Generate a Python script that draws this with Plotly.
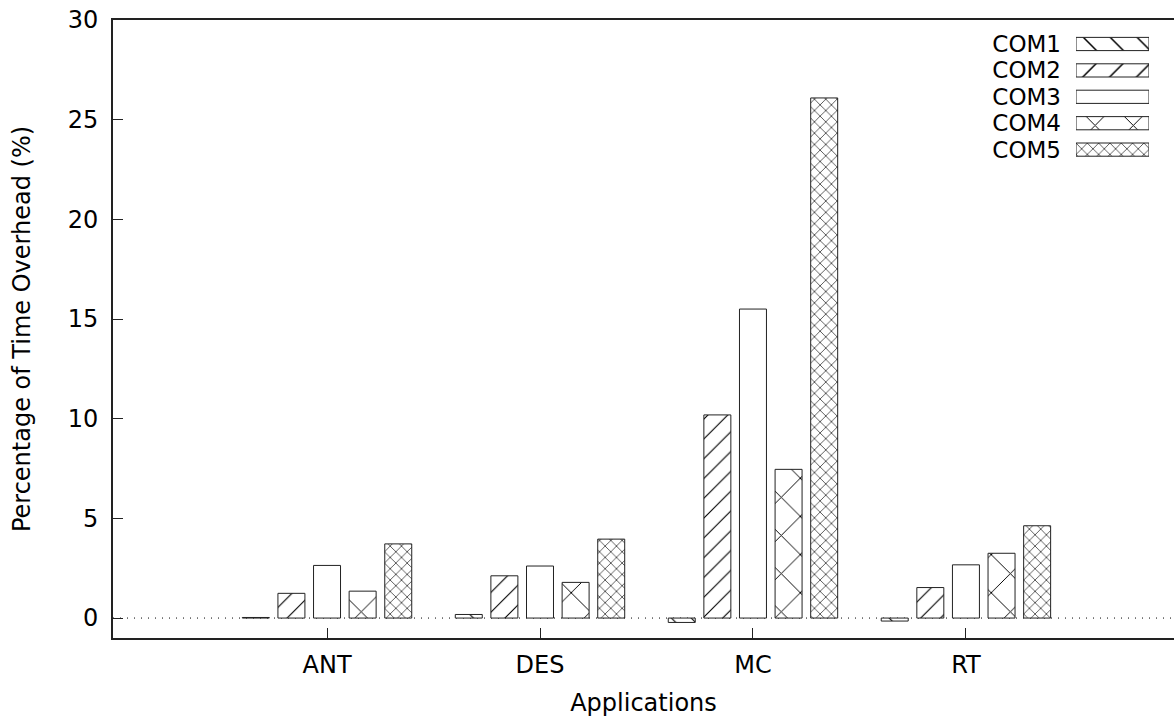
import plotly.graph_objects as go

categories = ["ANT", "DES", "MC", "RT"]
series_names = ["COM1", "COM2", "COM3", "COM4", "COM5"]
com1 = [0.03, 0.18, -0.22, -0.15]
com2 = [1.24, 2.12, 10.19, 1.53]
com3 = [2.64, 2.61, 15.5, 2.67]
com4 = [1.35, 1.79, 7.46, 3.25]
com5 = [3.72, 3.96, 26.09, 4.63]
values = [com1, com2, com3, com4, com5]

y_ticks = [0, 5, 10, 15, 20, 25, 30]

shapes = ["\\", "/", "", "x", "x"]
sizes = [14, 14, 10, 27, 8]
solid = [0.08, 0.08, 0.1, 0.07, 0.15]

FONT = "DejaVu Sans"
FS = 24
fig = go.Figure()

for name, vals, sh, sz, so in zip(series_names, values, shapes, sizes, solid):
    fig.add_trace(go.Bar(
        x=categories, y=vals, name=name, showlegend=False,
        marker=dict(color="white",
                    line=dict(color="#222", width=1),
                    pattern=dict(shape=sh, size=sz, solidity=so,
                                 fgcolor="black", fgopacity=1, bgcolor="white",
                                 fillmode="overlay")),
        xaxis="x", yaxis="y",
    ))

# inset legend (gnuplot style: label then swatch)
fig.add_trace(go.Bar(
    x=[1] * len(series_names), y=series_names, orientation="h",
    width=[0.5] * len(series_names), showlegend=False,
    marker=dict(color="white", line=dict(color="#222", width=1),
                pattern=dict(shape=shapes, size=[19, 19, 10, 27, 8],
                             solidity=solid, fgcolor="black", fgopacity=1,
                             bgcolor="white", fillmode="overlay")),
    xaxis="x2", yaxis="y2", hoverinfo="skip",
))

L, T, B = 113, 20, 79
W, H = 1174, 717
pw = W - L
ph = H - T - B

def px_x(p):
    return (p - L) / pw

def px_y(p):
    return (H - B - p) / ph

fig.add_shape(type="line", xref="paper", yref="y", x0=0, x1=1, y0=0, y1=0,
              line=dict(color="black", width=1, dash="1px,6px"), layer="below")

fig.update_layout(
    width=W, height=H,
    margin=dict(l=L, r=0, t=T, b=B),
    paper_bgcolor="white", plot_bgcolor="white",
    font=dict(family=FONT, size=FS, color="black"),
    barmode="group", bargap=0.164, bargroupgap=0.242,
    xaxis=dict(
        type="category", range=[-1.005, 3.977],
        showline=True, linecolor="#222", linewidth=2, mirror=True,
        ticks="inside", ticklen=10, tickcolor="#222", tickwidth=1,
        showgrid=False, zeroline=False, ticklabelstandoff=4,
        title=dict(text="Applications", standoff=20, font=dict(size=FS)),
        tickfont=dict(size=FS),
    ),
    yaxis=dict(
        range=[-1.0, 30.0], tickvals=y_ticks,
        showline=True, linecolor="#222", linewidth=2, mirror=False,
        ticks="inside", ticklen=10, tickcolor="#222", tickwidth=1,
        showgrid=False, zeroline=False, ticklabelstandoff=8,
        title=dict(text="Percentage of Time Overhead (%)", standoff=30, font=dict(size=FS)),
        tickfont=dict(size=FS),
    ),
    xaxis2=dict(domain=[px_x(1076), px_x(1149)], range=[0, 1], anchor="y2",
                visible=False, fixedrange=True),
    yaxis2=dict(domain=[px_y(163), px_y(30)], anchor="x2",
                type="category", range=[4.507, -0.53],
                tickmode="array", tickvals=series_names, ticktext=series_names,
                showline=False, showgrid=False, zeroline=False, ticks="",
                ticklabelstandoff=14, tickfont=dict(size=FS - 1)),
)

fig.write_html("out.html")
